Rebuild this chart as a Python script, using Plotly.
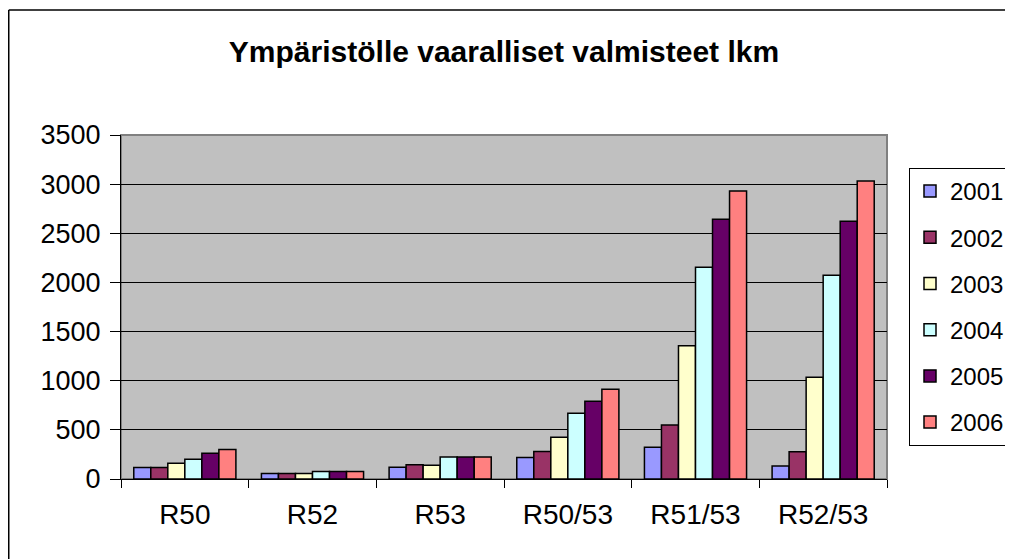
import plotly.graph_objects as go

# Data
categories = ["R50", "R52", "R53", "R50/53", "R51/53", "R52/53"]
years = ["2001", "2002", "2003", "2004", "2005", "2006"]
v2001 = [118, 57, 119, 220, 322, 132]
v2002 = [118, 57, 146, 281, 550, 278]
v2003 = [159, 57, 140, 424, 1357, 1035]
v2004 = [200, 77, 224, 668, 2155, 2073]
v2005 = [261, 77, 224, 790, 2644, 2623]
v2006 = [301, 77, 224, 912, 2929, 3031]
series = [v2001, v2002, v2003, v2004, v2005, v2006]
colors = ["#9999FF", "#993366", "#FFFFCC", "#CCFFFF", "#660066", "#FF8080"]

# page body has an 8px margin, so the figure is a bit smaller than the window
W, H = 1005, 551
ml, mr, mt, mb = 113, W - 879, 127, H - 471
pw, ph = W - ml - mr, H - mt - mb

fig = go.Figure()
for yr, vals, col in zip(years, series, colors):
    fig.add_trace(go.Bar(
        x=categories, y=vals, name=yr, legendgroup=yr,
        marker=dict(color=col, line=dict(color="black", width=1.5)),
    ))

font = "Liberation Sans, Arial, sans-serif"
bx, by = (0.75 - ml) / pw, (471 - 2) / ph  # chart border, left / top edges
fig.update_layout(
    width=W, height=H,
    margin=dict(l=ml, r=mr, t=mt, b=mb, pad=0, autoexpand=False),
    paper_bgcolor="white",
    plot_bgcolor="#C0C0C0",
    barmode="group", bargap=0.2, bargroupgap=0,
    font=dict(family=font, size=26, color="black"),
    title=dict(text="<b>Ympäristölle vaaralliset valmisteet lkm</b>",
               x=0.5, xref="paper", xanchor="center", y=1 - 43 / H,
               yanchor="middle", yref="container",
               font=dict(size=30, family=font)),
    xaxis=dict(showline=True, linecolor="black", linewidth=1,
               ticks="outside", ticklen=8, tickcolor="black",
               tickson="boundaries", showgrid=False, ticklabelstandoff=10,
               tickfont=dict(size=28)),
    yaxis=dict(range=[0, 3500], dtick=500, showline=True, linecolor="black",
               linewidth=1, ticks="outside", ticklen=10, tickcolor="black",
               gridcolor="black", gridwidth=1, zeroline=False,
               ticklabelstandoff=4, tickfont=dict(size=27)),
    legend=dict(x=(901 - ml) / pw, y=(471 - 160) / ph, xanchor="left",
                yanchor="top", bordercolor="black", borderwidth=1,
                bgcolor="white", tracegroupgap=12,
                font=dict(size=24, family=font)),
    shapes=[
        # plot area frame (grey)
        dict(type="rect", xref="paper", yref="paper", x0=0, x1=1, y0=0, y1=1,
             line=dict(color="#808080", width=2), layer="below"),
        # chart border: only left and top edges fall inside the picture
        dict(type="line", xref="paper", yref="paper",
             x0=bx, x1=bx, y0=-1, y1=by,
             line=dict(color="black", width=1.5)),
        dict(type="line", xref="paper", yref="paper",
             x0=bx, x1=2, y0=by, y1=by,
             line=dict(color="black", width=1.5)),
    ],
)

fig.write_html("out.html")
